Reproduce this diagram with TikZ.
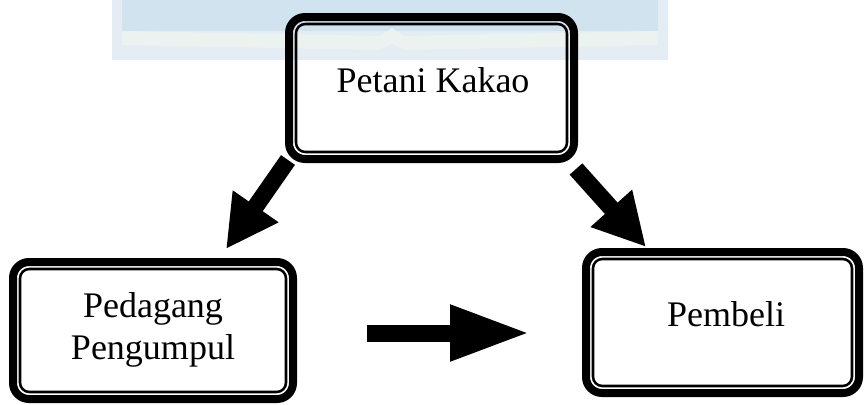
\documentclass[tikz,border=0pt]{standalone}
\usepackage{fontspec}
\setmainfont{Liberation Serif}
\usetikzlibrary{arrows.meta}
\definecolor{wmblue}{RGB}{208,227,239}
\definecolor{wmpale}{RGB}{236,242,240}
\definecolor{wmlight}{RGB}{228,237,244}
\tikzset{
  boxo/.style={draw=black, line width=6pt, rounded corners=12pt, inner sep=0pt, outer sep=0pt},
  boxi/.style={draw=black, line width=1.9pt, rounded corners=7pt},
  lbl/.style={font=\fontsize{27}{32}\selectfont, inner sep=0pt, align=center},
  fatarrow/.style={line width=12.75pt, -{Triangle[length=39pt,width=39pt]}},
  longarrow/.style={line width=12.75pt, -{Triangle[length=60pt,width=39pt]}}
}
\begin{document}
\begin{tikzpicture}[x=0.75pt,y=-0.75pt]
\useasboundingbox (0,0) rectangle (865,404);
% faint watermark
\fill[wmlight] (112,0) rectangle (668,60);
\fill[wmblue] (122,0) rectangle (658,31);
\fill[wmpale] (122,31) -- (380,36) -- (392,28) -- (404,36) -- (658,31) -- (658,45) -- (404,50) -- (392,44) -- (380,50) -- (122,45) -- cycle;
% boxes
\node[boxo, minimum width=213.75pt, minimum height=106.5pt] (top) at (431.5,88) {};
\node[boxo, minimum width=210pt, minimum height=102.75pt] (left) at (153,330.5) {};
\node[boxo, minimum width=204.75pt, minimum height=105.75pt] (right) at (722.5,322.5) {};
\foreach \n in {top,left,right}
  \draw[boxi] ([shift={(7,7)}]\n.north west) rectangle ([shift={(-7,-7)}]\n.south east);
% labels
\node[lbl] (ttop) at (433,80.5) {Petani Kakao};
\node[lbl] (tleft) at (153,330) {Pedagang\\Pengumpul};
\node[lbl] (tright) at (726,314.5) {Pembeli};
% arrows
\coordinate (a1s) at (288,160);
\coordinate (a1e) at (226,249);
\coordinate (a2s) at (576,169);
\coordinate (a2e) at (646,247);
\coordinate (a3s) at (367,333);
\coordinate (a3e) at (530,333);
\draw[fatarrow] (a1s) -- (a1e);
\draw[fatarrow] (a2s) -- (a2e);
\draw[longarrow] (a3s) -- (a3e);
\end{tikzpicture}
\end{document}
